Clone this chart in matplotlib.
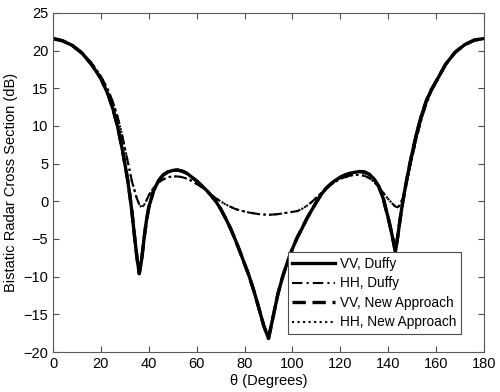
import numpy as np
import matplotlib.pyplot as plt

# =============================================================================
# data (theta in degrees, RCS in dB)
# =============================================================================
theta_vv = [0, 4, 8, 12, 16, 20, 23, 25, 27, 29, 31, 32, 33, 34, 35, 36, 37,
            38, 39, 40, 42, 44, 46, 48, 50, 52, 54, 56, 58, 60, 62, 64, 66,
            68, 70, 72, 74, 76, 78, 80, 82, 84, 86, 88, 90, 92, 94, 96, 98,
            100, 102, 104, 106, 108, 110, 112, 114, 116, 118, 120, 122, 124,
            126, 128, 130, 132, 134, 136, 138, 139, 140, 141, 142, 143, 144,
            145, 146, 147, 148, 149, 150, 152, 154, 156, 158, 160, 164, 168,
            172, 176, 180]
vv_duffy = [21.6, 21.3, 20.7, 19.7, 18.2, 16.3, 14.2, 12.3, 9.9, 6.8, 3.2,
            1.0, -1.5, -4.5, -7.3, -9.6, -7.8, -5.0, -2.6, -0.8, 1.4, 2.7,
            3.5, 3.9, 4.1, 4.15, 4.0, 3.7, 3.2, 2.7, 2.1, 1.5, 0.8, 0.0, -1.0,
            -2.2, -3.5, -5.0, -6.6, -8.3, -10.0, -12.0, -14.2, -16.5, -18.2,
            -15.2, -12.2, -9.9, -8.0, -6.3, -4.8, -3.6, -2.3, -1.2, -0.1, 0.9,
            1.7, 2.3, 2.8, 3.2, 3.5, 3.7, 3.85, 3.95, 3.9, 3.6, 3.0, 2.0, 0.3,
            -1.0, -2.2, -3.6, -5.1, -6.7, -4.6, -2.3, -0.2, 1.6, 3.3, 4.9,
            6.4, 9.2, 11.5, 13.4, 14.8, 15.9, 18.2, 19.8, 20.8, 21.4, 21.6]

theta_hh = [0, 4, 8, 12, 16, 20, 23, 25, 27, 29, 31, 33, 35, 36, 37, 38, 39,
            40, 42, 44, 46, 48, 50, 52, 54, 56, 58, 60, 62, 64, 66, 68, 70,
            72, 74, 76, 78, 80, 82, 84, 86, 88, 90, 92, 94, 96, 98, 100, 102,
            104, 106, 108, 110, 112, 114, 116, 118, 120, 122, 124, 126, 128,
            130, 132, 134, 136, 138, 140, 142, 143, 144, 145, 146, 147, 148,
            150, 152, 154, 156, 158, 160, 164, 168, 172, 176, 180]
hh_duffy = [21.6, 21.3, 20.7, 19.8, 18.4, 16.6, 14.8, 13.2, 11.2, 8.6, 5.6,
            2.6, 0.4, -0.4, -0.8, -0.5, 0.1, 0.8, 1.8, 2.5, 2.9, 3.2, 3.3,
            3.3, 3.2, 3.0, 2.7, 2.3, 1.9, 1.5, 0.9, 0.4, 0.0, -0.4, -0.7,
            -1.0, -1.2, -1.35, -1.5, -1.6, -1.7, -1.75, -1.8, -1.75, -1.7,
            -1.6, -1.5, -1.4, -1.3, -1.0, -0.6, -0.1, 0.5, 1.1, 1.7, 2.2,
            2.6, 3.0, 3.2, 3.4, 3.5, 3.5, 3.4, 3.1, 2.6, 1.9, 1.1, 0.3, -0.4,
            -0.7, -0.8, -0.4, 0.4, 1.6, 3.0, 5.8, 8.6, 11.0, 13.0, 14.6, 15.8,
            18.2, 19.8, 20.8, 21.4, 21.6]

# the new approach lies on top of the Duffy results
vv_new = vv_duffy
hh_new = hh_duffy

plt.rcParams['font.family'] = ['Liberation Sans', 'DejaVu Sans']
plt.rcParams['font.size'] = 10.5

fig = plt.figure(figsize=(5.0, 3.92), dpi=100)
ax = fig.add_axes([0.106, 0.102, 0.862, 0.865])

ax.plot(theta_vv, vv_duffy, "k-", lw=2.4, label="VV, Duffy")
ax.plot(theta_hh, hh_duffy, "k-.", lw=1.5, dashes=(5, 2, 1, 2), label="HH, Duffy")
ax.plot(theta_vv, vv_new, "k--", lw=2.4, dashes=(4, 2), label="VV, New Approach")
ax.plot(theta_hh, hh_new, "k:", lw=1.5, label="HH, New Approach")

ax.set_xlim(0, 180)
ax.set_ylim(-20, 25)
ax.set_xticks(np.arange(0, 181, 20))
ax.set_yticks(np.arange(-20, 26, 5))
ax.tick_params(direction="in", top=True, right=True, length=4, color="0.3")
for sp in ax.spines.values():
    sp.set_color("0.35")

ax.set_xlabel("θ (Degrees)", labelpad=2)
ax.set_ylabel("Bistatic Radar Cross Section (dB)")

leg = ax.legend(loc="lower right", bbox_to_anchor=(0.947, 0.053),
                fancybox=False, framealpha=1, edgecolor="0.3", fontsize=9.8,
                handlelength=3.1, borderpad=0.35, labelspacing=0.4,
                handletextpad=0.4, borderaxespad=0)
leg.get_frame().set_linewidth(0.8)

fig.savefig("out.png", dpi=100)
